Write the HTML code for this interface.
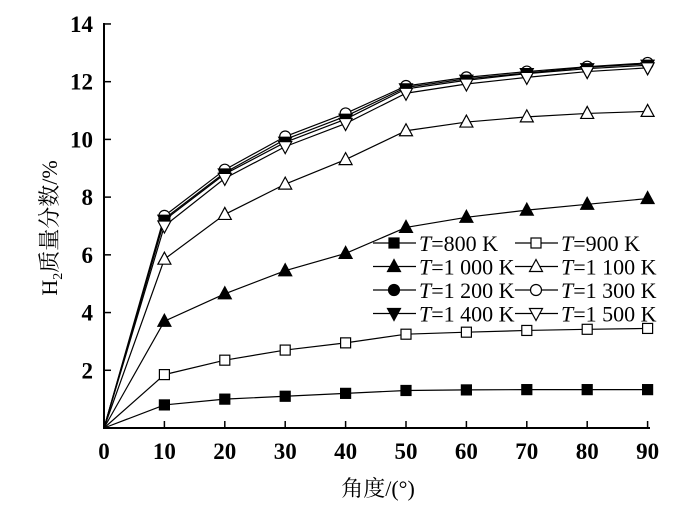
<!DOCTYPE html>
<html><head><meta charset="utf-8"><style>
body{margin:0;background:#fff}
svg{display:block;font-family:"Liberation Serif","Noto Serif CJK SC",serif}
</style></head><body>
<svg id="c" width="700" height="506"></svg>
<script>
const xCats=[0,10,20,30,40,50,60,70,80,90];
const s800=[0,0.8,1.0,1.1,1.2,1.3,1.32,1.33,1.33,1.33];
const s900=[0,1.85,2.35,2.7,2.95,3.25,3.32,3.38,3.42,3.45];
const s1000=[0,3.7,4.65,5.45,6.05,6.95,7.3,7.55,7.75,7.95];
const s1100=[0,5.85,7.4,8.45,9.3,10.3,10.6,10.78,10.9,10.97];
const s1200=[0,7.25,8.85,10.0,10.8,11.8,12.1,12.3,12.5,12.62];
const s1300=[0,7.35,8.95,10.1,10.9,11.85,12.15,12.35,12.52,12.65];
const s1400=[0,7.2,8.8,9.9,10.7,11.75,12.05,12.28,12.45,12.57];
const s1500=[0,7.0,8.65,9.75,10.55,11.6,11.92,12.15,12.35,12.48];
const xTicks=[0,10,20,30,40,50,60,70,80,90];
const yTicks=[2,4,6,8,10,12,14];
const seriesNames=["T=800 K","T=900 K","T=1 000 K","T=1 100 K","T=1 200 K","T=1 300 K","T=1 400 K","T=1 500 K"];
const seriesData=[s800,s900,s1000,s1100,s1200,s1300,s1400,s1500];
const markers=["sqf","sqo","tuf","tuo","cif","cio","tdf","tdo"];

const NS="http://www.w3.org/2000/svg";
const svg=document.getElementById('c');
const X=v=>104+v*60.4/10;
const Y=v=>428-v*28.86;
function el(t,a,p){const e=document.createElementNS(NS,t);for(const k in a)e.setAttribute(k,a[k]);(p||svg).appendChild(e);return e;}
function marker(type,x,y,g){
  const fill=type.endsWith('f')?'#000':'#fff';const st={fill:fill,stroke:'#000','stroke-width':1.2};
  let m;
  if(type.startsWith('sq'))m=el('rect',Object.assign({x:x-5,y:y-5,width:10,height:10},st),g);
  else if(type.startsWith('ci'))m=el('circle',Object.assign({cx:x,cy:y,r:5.5},st),g);
  else if(type.startsWith('tu'))m=el('polygon',Object.assign({points:`${x},${y-7} ${x-6.5},${y+5} ${x+6.5},${y+5}`},st),g);
  else m=el('polygon',Object.assign({points:`${x},${y+7} ${x-6.5},${y-5} ${x+6.5},${y-5}`},st),g);
  return m;
}
const ax=el('g',{});


el('line',{x1:104,y1:23,x2:104,y2:429,stroke:'#000','stroke-width':2},ax);
el('line',{x1:103,y1:428,x2:650,y2:428,stroke:'#000','stroke-width':2},ax);
xTicks.forEach(v=>{
  el('line',{x1:X(v),y1:428,x2:X(v),y2:421,stroke:'#000','stroke-width':1.5},ax);
  const t=el('text',{x:X(v),y:459,'text-anchor':'middle','font-size':23,'font-weight':'bold'},ax);t.textContent=v;
  
  
});
yTicks.forEach(v=>{
  el('line',{x1:104,y1:Y(v),x2:111,y2:Y(v),stroke:'#000','stroke-width':1.5},ax);
  const t=el('text',{x:93,y:Y(v)+8,'text-anchor':'end','font-size':23,'font-weight':'bold'},ax);t.textContent=v;
  
  
});
const xt=el('text',{x:378,y:496,'text-anchor':'middle','font-size':22});
xt.textContent='角度/(°)';


const yt=el('text',{transform:'translate(57,228) rotate(-90)','text-anchor':'middle','font-size':22});
yt.innerHTML='H<tspan font-size="14" dy="5">2</tspan><tspan dy="-5">质量分数/%</tspan>';


seriesData.forEach((d,i)=>{
  const g=el('g',{});
  
  
  el('polyline',{points:d.map((v,j)=>X(xCats[j])+','+Y(v)).join(' '),fill:'none',stroke:'#000','stroke-width':1.2},g);
  d.forEach((v,j)=>{if(j>0){const m=marker(markers[i],X(xCats[j]),Y(v),g);
    
    }});
});
const lg=el('g',{});


seriesNames.forEach((n,i)=>{
  const col=i%2,row=Math.floor(i/2);
  const x0=col?515:373,y=243+row*23.5;
  const e=el('g',{},lg);
  
  
  el('line',{x1:x0,y1:y,x2:x0+43,y2:y,stroke:'#000','stroke-width':1.2},e);
  marker(markers[i],x0+21,y,e);
  const t=el('text',{x:x0+46,y:y+8,'font-size':22},e);
  t.innerHTML='<tspan font-style="italic">T</tspan>'+n.slice(1);
});
</script>
</body></html>
